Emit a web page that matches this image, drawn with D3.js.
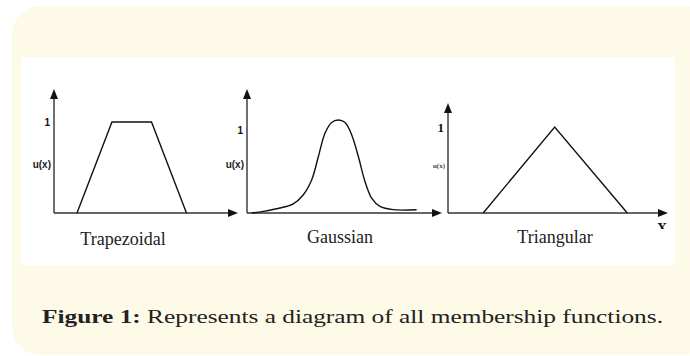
<!DOCTYPE html>
<html>
<head>
<meta charset="utf-8">
<script src="https://cdn.jsdelivr.net/npm/d3@7"></script>
<style>
  body { margin: 0; background: #fff; }
  svg { display: block; }
</style>
</head>
<body>
<script>
var width = 690;
var height = 356;

// membership function data (x in 0..10, u in 0..1)
var chartNames = ["Trapezoidal", "Gaussian", "Triangular"];
var trapX = [1.25, 3.15, 5.3, 7.2];
var trapU = [0, 1, 1, 0];
var gaussX = [0.24, 0.84, 1.69, 2.37, 2.89, 3.32, 3.66, 4.0, 4.34, 4.68, 5.03, 5.37, 5.71, 6.05, 6.39, 6.82, 7.5, 8.7];
var gaussU = [0.0, 0.02, 0.06, 0.11, 0.22, 0.40, 0.68, 0.96, 1.09, 1.12, 1.09, 0.94, 0.68, 0.38, 0.18, 0.08, 0.04, 0.04];
var triX = [1.6, 4.85, 8.15];
var triU = [0, 1, 0];
var yTickLabel = "1";
var yAxisLabel = "u(x)";
var xAxisLabel = "X";
var caption = ["Figure 1:", " Represents a diagram of all membership functions."];

var serifFont = "'Liberation Serif', 'Times New Roman', Times, serif";
var sansFont = "'Liberation Sans', Arial, Helvetica, sans-serif";

var series = [
  { x: trapX, u: trapU, curve: d3.curveLinear },
  { x: gaussX, u: gaussU, curve: d3.curveCatmullRom },
  { x: triX, u: triU, curve: d3.curveLinear }
];

// where each small plot sits
var layout = [
  { left: 54, right: 238, base: 213, top: 89, one: 122, nameX: 123, nameY: 245 },
  { left: 247, right: 442, base: 213, top: 89, one: 130, nameX: 340, nameY: 243 },
  { left: 448, right: 668, base: 213, top: 103, one: 127, nameX: 555, nameY: 243 }
];

var svg = d3.select("body")
  .append("svg")
  .attr("width", width)
  .attr("height", height);

// cream panel + white figure area
svg.append("rect")
  .attr("x", 12).attr("y", 6)
  .attr("width", 700).attr("height", 349)
  .attr("rx", 28).attr("ry", 28)
  .attr("fill", "#fefae8");

svg.append("rect")
  .attr("x", 21).attr("y", 57)
  .attr("width", 654).attr("height", 208)
  .attr("fill", "#ffffff");

layout.forEach(function(l, i) {
  var x = d3.scaleLinear().domain([0, 10]).range([l.left, l.right]);
  var y = d3.scaleLinear().domain([0, 1]).range([l.base, l.one]);
  var g = svg.append("g");

  // y axis with arrow
  g.append("line")
    .attr("x1", x(0)).attr("x2", x(0))
    .attr("y1", y(0)).attr("y2", l.top + 6)
    .attr("stroke", "#333").attr("stroke-width", 1.4);
  g.append("path")
    .attr("d", "M" + (x(0) - 4) + "," + (l.top + 10) + "L" + x(0) + "," + l.top + "L" + (x(0) + 4) + "," + (l.top + 10) + "Z")
    .attr("fill", "#111");

  // x axis with arrow
  g.append("line")
    .attr("x1", x(0)).attr("x2", x(10) - 6)
    .attr("y1", y(0)).attr("y2", y(0))
    .attr("stroke", "#333").attr("stroke-width", 1.4);
  g.append("path")
    .attr("d", "M" + (x(10) - 10) + "," + (y(0) - 4) + "L" + x(10) + "," + y(0) + "L" + (x(10) - 10) + "," + (y(0) + 4) + "Z")
    .attr("fill", "#111");

  // the membership curve
  var s = series[i];
  var pts = s.x.map(function(d, k) { return [d, s.u[k]]; });
  var line = d3.line()
    .x(function(d) { return x(d[0]); })
    .y(function(d) { return y(d[1]); })
    .curve(s.curve);
  g.append("path")
    .datum(pts)
    .attr("d", line)
    .attr("fill", "none")
    .attr("stroke", "#111")
    .attr("stroke-width", 1.4);

  // labels
  var serif = i === 2;
  g.append("text")
    .attr("x", x(0) - 4).attr("y", y(1))
    .attr("dy", "0.35em")
    .attr("text-anchor", "end")
    .style("font-family", serif ? serifFont : sansFont)
    .style("font-weight", "bold")
    .style("font-size", serif ? "13px" : "10px")
    .attr("fill", "#111")
    .text(yTickLabel);

  g.append("text")
    .attr("x", x(0) - 3).attr("y", serif ? 166 : 164)
    .attr("dy", "0.35em")
    .attr("text-anchor", "end")
    .style("font-family", serif ? serifFont : sansFont)
    .style("font-weight", "bold")
    .style("font-size", serif ? "7px" : "10px")
    .attr("fill", serif ? "#444" : "#222")
    .text(yAxisLabel);

  g.append("text")
    .attr("x", l.nameX).attr("y", l.nameY)
    .attr("text-anchor", "middle")
    .style("font-family", serifFont)
    .style("font-size", "18px")
    .attr("fill", "#222")
    .text(chartNames[i]);
});

// "X" under the last arrow, only its upper half shows in the source image
svg.append("clipPath").attr("id", "xclip")
  .append("rect").attr("x", 640).attr("y", 215).attr("width", 40).attr("height", 14);
svg.append("text")
  .attr("x", 662).attr("y", 233)
  .attr("text-anchor", "middle")
  .attr("clip-path", "url(#xclip)")
  .style("font-family", serifFont)
  .style("font-weight", "bold")
  .style("font-size", "14px")
  .attr("fill", "#111")
  .text(xAxisLabel);

// caption
var cap = svg.append("text")
  .attr("x", 42).attr("y", 323)
  .attr("textLength", 621)
  .attr("lengthAdjust", "spacingAndGlyphs")
  .style("font-family", serifFont)
  .style("font-size", "19px")
  .attr("fill", "#222");
cap.append("tspan").style("font-weight", "bold").text(caption[0]);
cap.append("tspan").text(caption[1]);
</script>
</body>
</html>
